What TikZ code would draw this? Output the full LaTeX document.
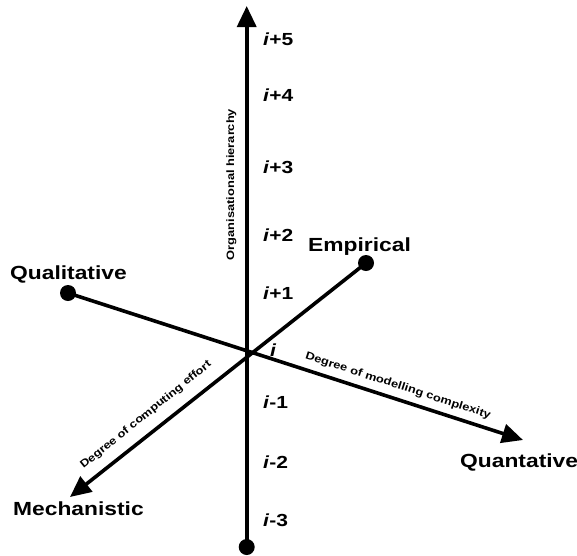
\documentclass[tikz,border=0pt]{standalone}
\usepackage{fontspec}
\newfontfamily\diagfont{Liberation Sans}[FakeStretch=1.2]
\usepackage{tikz}
\usetikzlibrary{arrows.meta}

\begin{document}
\begin{tikzpicture}[
    x=1pt,y=-1pt,
    axis/.style={line width=3.6pt},
    dot/.style={circle,fill=black,inner sep=0pt,minimum size=16pt},
    pole/.style={anchor=base west,inner sep=0pt,font=\diagfont\fontsize{19}{22}\selectfont\bfseries},
    level/.style={anchor=base west,inner sep=0pt,font=\diagfont\fontsize{17.5}{20}\selectfont\bfseries},
    axlabel/.style={inner sep=0pt,font=\diagfont\fontsize{10.7}{12}\selectfont\bfseries},
    >={Triangle[width=19pt,length=21pt]}
  ]
    \useasboundingbox (0,0) rectangle (577,555);
    \coordinate (top) at (246.7,6);
    \coordinate (quanttip) at (523,440);
    \coordinate (mechtip) at (70,497);
    \node[dot] (bottom) at (246.7,547) {};
    \node[dot] (qual) at (68,293) {};
    \node[dot] (emp) at (366,263) {};
    \draw[axis,->] (bottom.center) -- (top);
    \draw[axis,->] (qual.center) -- (quanttip);
    \draw[axis,->] (emp.center) -- (mechtip);

    \node[pole] (qualtext) at (10,279) {Qualitative};
    \node[pole] (emptext) at (308,251) {Empirical};
    \node[pole] (mechtext) at (13,515) {Mechanistic};
    \node[pole] (quanttext) at (460,467) {Quantative};

    \node[level] (lp5) at (263,45) {\textit{i}+5};
    \node[level] (lp4) at (263,101.5) {\textit{i}+4};
    \node[level] (lp3) at (263,173) {\textit{i}+3};
    \node[level] (lp2) at (263,241) {\textit{i}+2};
    \node[level] (lp1) at (263,299.5) {\textit{i}+1};
    \node[level] (l0) at (270,356.5) {\textit{i}};
    \node[level] (lm1) at (263,408) {\textit{i}-1};
    \node[level] (lm2) at (263,468) {\textit{i}-2};
    \node[level] (lm3) at (263,526) {\textit{i}-3};

    \node[axlabel,rotate=90] (hier) at (231.5,184.5) {Organisational hierarchy};
    \node[axlabel,rotate=39] (effort) at (146,415) {Degree of computing effort};
    \node[axlabel,rotate=-18] (complex) at (398,386) {Degree of modelling complexity};
  \end{tikzpicture}
\end{document}
